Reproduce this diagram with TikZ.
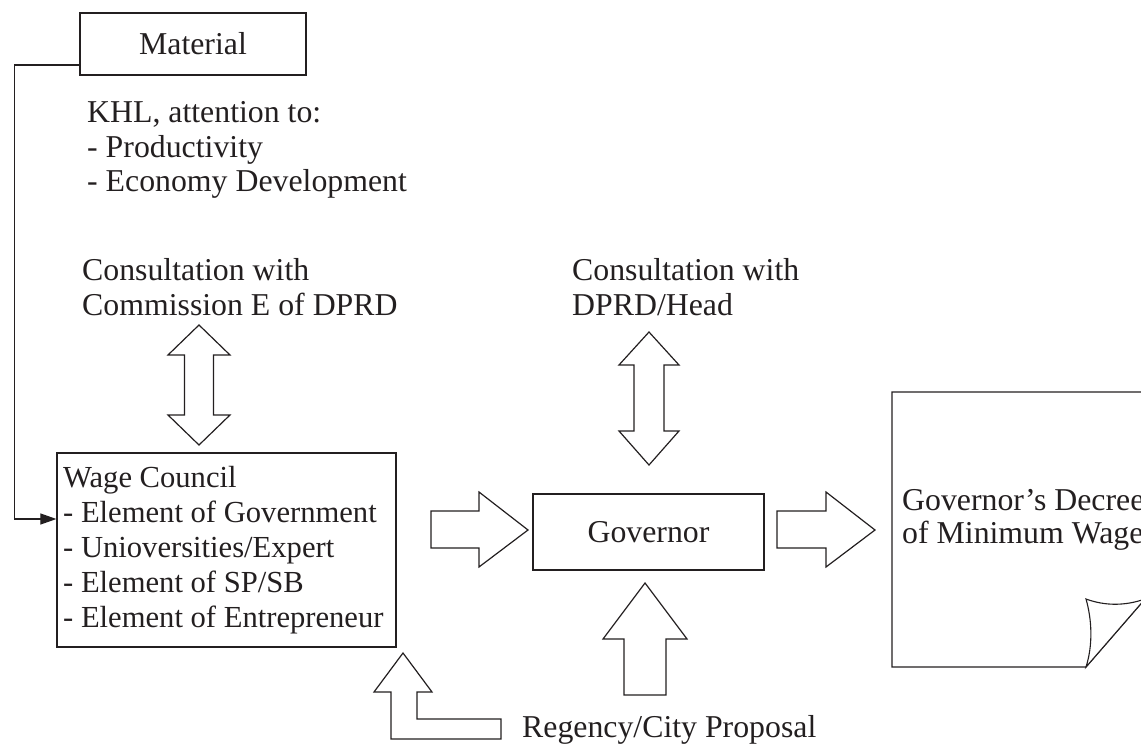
\documentclass[tikz,border=0pt]{standalone}
\usepackage{fontspec}
\setmainfont{Liberation Serif}
\usetikzlibrary{arrows.meta}
\definecolor{ink}{RGB}{35,31,32}
\newcommand\myfs{\fontsize{31.8}{35}\selectfont}
\newcommand\mywcfs{\fontsize{30.6}{35}\selectfont}
\begin{document}
\begin{tikzpicture}[x=1pt,y=-1pt,
  box/.style={draw=ink, line width=1.2pt, rectangle, inner sep=0pt, text=ink, font=\myfs},
  txt/.style={anchor=base west, inner sep=0pt, text=ink, font=\myfs},
  wctxt/.style={txt, font=\mywcfs},
  blk/.style={draw=ink, line width=1.2pt, fill=white, line join=miter},
  conn/.style={draw=ink, line width=1.1pt, -{Triangle[length=16pt,width=11pt]}}]
\useasboundingbox (0,0) rectangle (1141,746);
\clip (0,0) rectangle (1141,746);

% boxes
\node[box, minimum width=226pt, minimum height=62pt] (mat) at (193,44) {Material};
\node[box, minimum width=339pt, minimum height=194pt] (wc) at (226.5,550) {};
\node[box, minimum width=231pt, minimum height=76pt] (gov) at (648.5,532) {Governor};

% document with folded corner
\draw[draw=ink, line width=1.2pt, line join=miter]
  (1180,392) -- (892,392) -- (892,667) -- (1086,667) -- (1145,599) -- (1145,392);
\draw[draw=ink, line width=1.1pt, fill=white, line join=miter]
  (1086,667) .. controls (1093,645) and (1092,620) .. (1086,599)
  .. controls (1105,606) and (1125,606) .. (1145,599) -- cycle;

% texts
\node[txt] (khl1) at (87,123) {KHL, attention to:};
\node[txt] (khl2) at (87,157.5) {- Productivity};
\node[txt] (khl3) at (87,192) {- Economy Development};
\node[txt] (c1a) at (82,280) {Consultation with};
\node[txt] (c1b) at (82,315) {Commission E of DPRD};
\node[txt] (c2a) at (572,280) {Consultation with};
\node[txt] (c2b) at (572,315) {DPRD/Head};
\node[wctxt] (wc1) at (63,487) {Wage Council};
\node[wctxt] (wc2) at (63,522) {- Element of Government};
\node[wctxt] (wc3) at (63,557) {- Unioversities/Expert};
\node[wctxt] (wc4) at (63,592) {- Element of SP/SB};
\node[wctxt] (wc5) at (63,627) {- Element of Entrepreneur};
\node[txt] (doc1) at (902,510) {Governor’s Decree};
\node[txt] (doc2) at (902,543) {of Minimum Wage};
\node[txt] (reg) at (522,737) {Regency/City Proposal};

% connector Material -> Wage Council
\draw[conn] ([yshift=-21pt]mat.west) -- ++(-65,0) |- ([yshift=31pt]wc.west);

% block arrows
\draw[blk] (199,325) -- (230,355) -- (213.5,355) -- (213.5,415) -- (230,415) -- (199,445)
  -- (168,415) -- (184.5,415) -- (184.5,355) -- (168,355) -- cycle;
\draw[blk] (649,332) -- (679,365) -- (664,365) -- (664,431) -- (679,431) -- (649,465)
  -- (619,431) -- (634,431) -- (634,365) -- (619,365) -- cycle;
\draw[blk] (431,511) -- (479,511) -- (479,492) -- (528,530) -- (479,567) -- (479,548) -- (431,548) -- cycle;
\draw[blk] (777,511) -- (826,511) -- (826,492) -- (875,530) -- (826,567) -- (826,548) -- (777,548) -- cycle;
\draw[blk] (645,583) -- (687,639) -- (666,639) -- (666,695) -- (624,695) -- (624,639) -- (603,639) -- cycle;
\draw[blk] (403,653) -- (432,692) -- (417,692) -- (417,719) -- (501,719) -- (501,739)
  -- (391,739) -- (391,692) -- (374,692) -- cycle;
\end{tikzpicture}
\end{document}
